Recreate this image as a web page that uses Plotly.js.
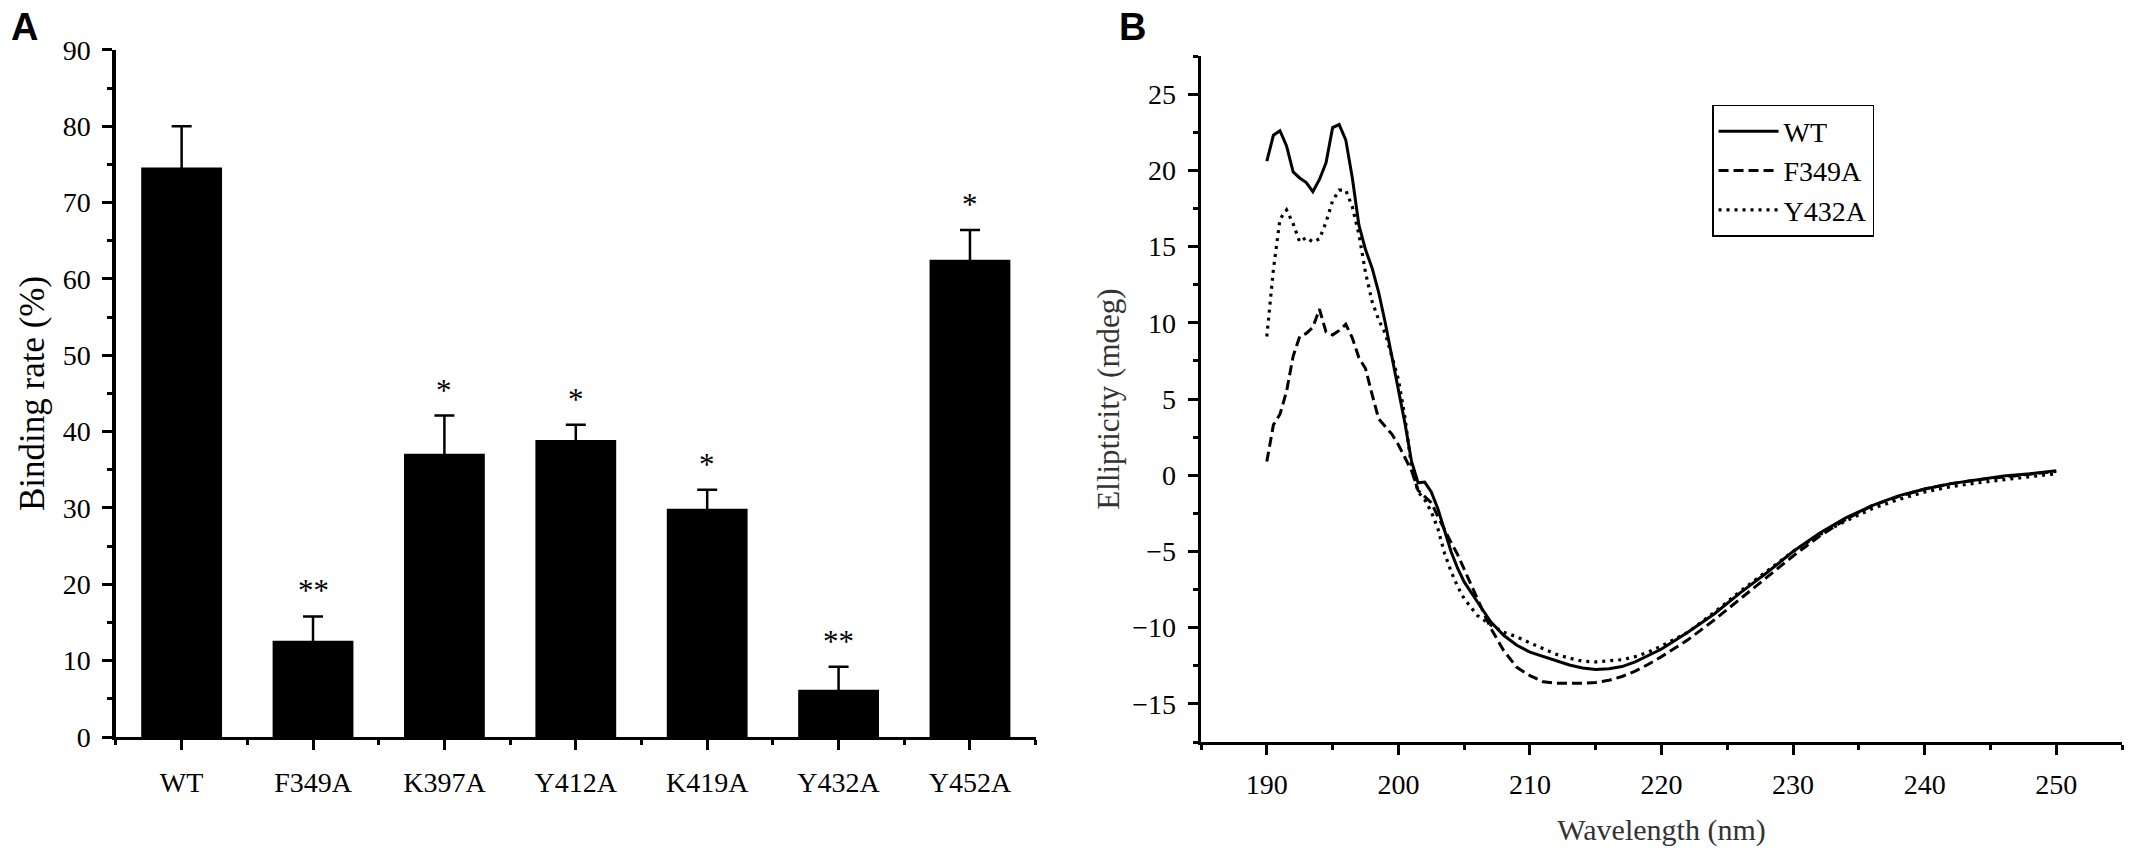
<!DOCTYPE html>
<html>
<head>
<meta charset="utf-8">
<script src="https://cdn.plot.ly/plotly-3.0.1.min.js"></script>
<style>
  html, body { margin: 0; padding: 0; background: #fff; }
  #chart { width: 2131px; height: 859px; }
</style>
</head>
<body>
<div id="chart"></div>
<script>
// Panel A: binding rate of the mutants (mean, SD and significance marks)
var mutants = ['WT', 'F349A', 'K397A', 'Y412A', 'K419A', 'Y432A', 'Y452A'];
var bindingRate = [74.6, 12.6, 37.1, 38.9, 29.9, 6.2, 62.5];
var bindingSd = [5.4, 3.2, 5.0, 2.0, 2.5, 3.0, 3.9];
var signif = ['', '**', '*', '*', '*', '**', '*'];

// Panel B: CD spectra
var wavelength = [190, 190.5, 191, 191.5, 192, 192.5, 193, 193.5, 194, 194.5,
  195, 195.5, 196, 196.5, 197, 197.5, 198, 198.5, 199, 199.5,
  200, 200.5, 201, 201.5, 202, 202.5, 203, 203.5, 204, 204.5,
  205, 206, 207, 208, 209, 210, 211, 212, 213, 214,
  215, 216, 217, 218, 219, 220, 222, 224, 226, 228,
  230, 232, 234, 236, 238, 240, 242, 244, 246, 248, 250];
var cdWT = [20.6, 22.3, 22.6, 21.6, 19.9, 19.5, 19.2, 18.6, 19.4, 20.5,
  22.8, 23.0, 22.0, 19.5, 16.4, 14.8, 13.6, 12.0, 10.0, 7.8,
  5.4, 3.4, 0.9, -0.5, -0.45, -1.1, -2.2, -3.6, -5.0, -6.1,
  -7.0, -8.3, -9.6, -10.5, -11.15, -11.6, -11.9, -12.15, -12.45, -12.65,
  -12.75, -12.7, -12.55, -12.25, -11.85, -11.4, -10.3, -9.1, -7.7, -6.4,
  -5.0, -3.8, -2.8, -2.0, -1.35, -0.9, -0.55, -0.3, -0.05, 0.1, 0.3];
var cdF349A = [0.9, 3.3, 4.0, 5.5, 7.8, 9.1, 9.3, 9.7, 10.9, 9.4,
  9.2, 9.5, 9.9, 9.0, 7.7, 7.0, 5.3, 3.7, 3.2, 2.7,
  2.0, 1.2, 0.3, -1.0, -1.4, -1.8, -2.7, -3.6, -4.4, -5.2,
  -6.2, -8.1, -10.0, -11.5, -12.6, -13.15, -13.55, -13.65, -13.65, -13.65,
  -13.6, -13.45, -13.2, -12.85, -12.4, -11.9, -10.8, -9.5, -8.1, -6.7,
  -5.3, -4.0, -2.9, -2.0, -1.4, -0.9, -0.55, -0.3, -0.1, 0.05, 0.25];
var cdY432A = [9.1, 13.5, 16.8, 17.4, 16.5, 15.3, 15.6, 15.3, 15.5, 16.6,
  18.0, 18.7, 18.7, 17.6, 15.8, 13.3, 11.4, 10.2, 9.3, 7.8,
  6.3, 3.8, 0.5, -1.1, -1.6, -2.4, -3.5, -5.1, -6.3, -7.3,
  -8.1, -9.2, -9.8, -10.3, -10.6, -11.0, -11.4, -11.75, -12.0, -12.2,
  -12.25, -12.2, -12.1, -11.9, -11.6, -11.2, -10.3, -9.0, -7.6, -6.3,
  -5.0, -3.9, -3.0, -2.2, -1.6, -1.1, -0.75, -0.5, -0.3, -0.1, 0.1];

var SERIF = 'Liberation Serif, Times New Roman, serif';
var SANS = 'Liberation Sans, Arial, sans-serif';

var idx = mutants.map(function (m, i) { return i; });

var traces = [
  {
    type: 'bar', x: idx, y: bindingRate, width: 0.615,
    marker: { color: '#000', line: { width: 0 } },
    // symmetric bars: the lower half is hidden inside the black bar
    error_y: { type: 'data', array: bindingSd, color: '#000', thickness: 2.5, width: 10 },
    xaxis: 'x', yaxis: 'y', showlegend: false, hoverinfo: 'skip'
  },
  {
    type: 'scatter', mode: 'lines', name: 'WT', x: wavelength, y: cdWT,
    line: { color: '#000', width: 3, dash: 'solid' },
    xaxis: 'x2', yaxis: 'y2', legendgroup: 'a'
  },
  {
    type: 'scatter', mode: 'lines', name: 'F349A', x: wavelength, y: cdF349A,
    line: { color: '#000', width: 3, dash: '10px,5px' },
    xaxis: 'x2', yaxis: 'y2', legendgroup: 'b'
  },
  {
    type: 'scatter', mode: 'lines', name: 'Y432A', x: wavelength, y: cdY432A,
    line: { color: '#000', width: 3.2, dash: '3px,5px' },
    xaxis: 'x2', yaxis: 'y2', legendgroup: 'c'
  }
];

// significance marks above the error bars
var starNotes = [];
signif.forEach(function (s, i) {
  if (!s) return;
  starNotes.push({
    text: s, x: i, y: bindingRate[i] + bindingSd[i], xref: 'x', yref: 'y',
    xanchor: 'center', yanchor: 'bottom', yshift: 6, showarrow: false,
    font: { family: SERIF, size: 31, color: '#000' }
  });
});

var tickFont = { family: SERIF, size: 28, color: '#000' };

var layout = {
  width: 2131, height: 859,
  margin: { l: 0, r: 0, t: 0, b: 0 },
  paper_bgcolor: '#fff', plot_bgcolor: 'rgba(0,0,0,0)',
  font: { family: SERIF, color: '#000' },
  showlegend: true,
  xaxis: {
    domain: [0.0544, 0.486], range: [-0.5, 6.5],
    tickmode: 'array', tickvals: idx, ticktext: mutants,
    ticks: 'outside', ticklen: 10, tickwidth: 3, tickcolor: '#000',
    minor: { tickmode: 'linear', tick0: -0.5, dtick: 1, ticks: 'outside', ticklen: 5, tickwidth: 3, tickcolor: '#000' },
    showline: true, linewidth: 3, linecolor: '#000',
    showgrid: false, zeroline: false, tickfont: tickFont, ticklabelstandoff: 8,
    anchor: 'y'
  },
  yaxis: {
    domain: [0.142, 0.942], range: [0, 90], dtick: 10,
    ticks: 'outside', ticklen: 10, tickwidth: 3, tickcolor: '#000',
    minor: { dtick: 5, ticks: 'outside', ticklen: 5, tickwidth: 3, tickcolor: '#000' },
    showline: true, linewidth: 3.5, linecolor: '#000',
    showgrid: false, zeroline: false, tickfont: tickFont, ticklabelstandoff: 6,
    title: { text: 'Binding rate (%)', font: { family: SERIF, size: 35, color: '#000' }, standoff: 8 },
    anchor: 'x'
  },
  xaxis2: {
    domain: [0.5636, 0.9958], range: [185, 255], tick0: 190, dtick: 10,
    ticks: 'outside', ticklen: 10, tickwidth: 3, tickcolor: '#000',
    minor: { dtick: 5, ticks: 'outside', ticklen: 5, tickwidth: 3, tickcolor: '#000' },
    showline: true, linewidth: 3, linecolor: '#000',
    showgrid: false, zeroline: false, tickfont: tickFont, ticklabelstandoff: 5,
    title: { text: 'Wavelength (nm)', font: { family: SERIF, size: 30, color: '#333' }, standoff: 21 },
    anchor: 'y2'
  },
  yaxis2: {
    domain: [0.1362, 0.9348], range: [-17.5, 27.5], tick0: 0, dtick: 5,
    ticks: 'outside', ticklen: 10, tickwidth: 3, tickcolor: '#000',
    minor: { dtick: 2.5, ticks: 'outside', ticklen: 5, tickwidth: 3, tickcolor: '#000' },
    showline: true, linewidth: 3.5, linecolor: '#000',
    showgrid: false, zeroline: false, tickfont: tickFont, ticklabelstandoff: 6,
    title: { text: 'Ellipticity (mdeg)', font: { family: SERIF, size: 31, color: '#333' }, standoff: 4 },
    anchor: 'x2'
  },
  legend: {
    x: 0.8034, y: 0.8778, xanchor: 'left', yanchor: 'top',
    bgcolor: '#fff', bordercolor: '#000', borderwidth: 1.5,
    font: { family: SERIF, size: 28, color: '#000' },
    itemwidth: 60, tracegroupgap: 4, traceorder: 'normal'
  },
  annotations: [
    { text: '<b>A</b>', xref: 'paper', yref: 'paper', x: 0.004, y: 0.995, xanchor: 'left', yanchor: 'top',
      showarrow: false, font: { family: SANS, size: 38, color: '#000' } },
    { text: '<b>B</b>', xref: 'paper', yref: 'paper', x: 0.524, y: 0.995, xanchor: 'left', yanchor: 'top',
      showarrow: false, font: { family: SANS, size: 38, color: '#000' } }
  ].concat(starNotes)
};

Plotly.newPlot('chart', traces, layout, { displayModeBar: false, staticPlot: true });
</script>
</body>
</html>
